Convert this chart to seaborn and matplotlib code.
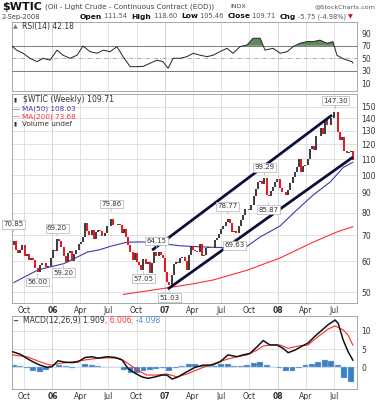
import matplotlib
matplotlib.use("Agg")
import matplotlib.pyplot as plt
import numpy as np
import pandas as pd
import seaborn as sns
from matplotlib.ticker import FixedLocator, FuncFormatter, NullLocator

# weekly closes, $WTIC, week of 2005-08-29 .. week of 2008-09-01
first_open = 65.9
weekly_close = [
    67.57, 64.08, 63.00, 64.19, 66.24, 61.84, 62.63, 60.35, 61.09, 60.58,
    57.53, 56.14, 58.71, 59.32, 59.39, 58.06, 58.43, 61.04,
    # 2006
    64.21, 63.92, 68.35, 67.76, 65.37, 61.84, 59.88, 62.91, 63.67, 60.00,
    62.69, 64.26, 66.63, 67.39, 69.32, 75.17, 71.88, 70.19, 72.04, 68.53,
    71.37, 72.33, 71.63, 69.85, 70.87, 73.93, 74.09, 77.03, 74.43, 74.40,
    75.00, 74.35, 71.14, 72.51, 69.20, 66.25, 63.33, 60.55, 62.91, 59.76,
    58.57, 56.82, 60.75, 59.14, 59.58, 55.81, 59.24, 63.43, 62.03, 63.43,
    62.41, 61.05,
    # 2007
    56.31, 52.99, 52.24, 55.42, 59.02, 59.89, 59.39, 61.14, 61.64, 60.05,
    57.11, 62.28, 65.87, 64.28, 63.63, 63.38, 66.46, 61.93, 62.37, 64.94,
    65.20, 65.08, 64.76, 68.00, 68.98, 70.68, 72.81, 73.93, 75.57, 77.02,
    75.48, 71.47, 71.98, 71.09, 74.04, 76.70, 79.10, 81.62, 81.66, 81.22,
    83.69, 88.60, 91.86, 95.93, 96.32, 95.10, 98.18, 88.71, 88.28, 91.27,
    93.31, 96.00,
    # 2008
    97.91, 92.69, 90.57, 90.71, 88.96, 91.77, 95.50, 98.81, 101.84, 105.15,
    110.21, 101.84, 105.62, 106.23, 110.14, 116.69, 118.52, 116.32, 125.96, 126.29,
    132.19, 127.35, 138.54, 134.86, 134.62, 140.21, 145.29, 145.08, 128.88, 123.26,
    125.10, 115.20, 113.77, 114.59, 115.46, 109.71,
]

ma50_dates = ["2005-08-29", "2005-11-15", "2006-02-08", "2006-04-25", "2006-06-01",
              "2006-07-15", "2006-09-01", "2006-10-20", "2006-12-15", "2007-02-15",
              "2007-04-02", "2007-06-01", "2007-08-01", "2007-09-24", "2007-11-05",
              "2008-01-09", "2008-02-25", "2008-04-25", "2008-06-19", "2008-07-31",
              "2008-09-01"]
ma50_values = [52.9, 57.0, 59.2, 63.4, 64.2, 65.8, 67.2, 67.3, 66.8, 65.8,
               65.5, 65.2, 65.0, 65.6, 69.3, 74.0, 80.4, 88.9, 96.0, 104.6, 108.03]

ma200_dates = ["2006-08-18", "2006-12-22", "2007-03-27", "2007-06-06", "2007-09-24",
               "2008-01-09", "2008-04-25", "2008-07-11", "2008-09-01"]
ma200_values = [49.3, 51.0, 52.4, 53.7, 56.9, 61.2, 67.2, 71.4, 73.68]

channel_upper_dates = ["2006-11-20", "2008-06-25"]
channel_upper_prices = [64.1, 142.8]
channel_lower_dates = ["2007-01-10", "2008-09-01"]
channel_lower_prices = [50.9, 111.3]

price_labels = ["70.85", "56.00", "69.20", "59.20", "79.86", "57.05", "64.15",
                "51.03", "78.77", "69.63", "99.29", "85.87", "147.30"]
label_dates = ["2005-08-29", "2005-11-14", "2006-01-16", "2006-02-06", "2006-07-10",
               "2006-10-23", "2006-12-04", "2007-01-15", "2007-07-23", "2007-08-13",
               "2007-11-19", "2007-12-03", "2008-07-07"]
label_above = [True, False, True, False, True, False, True, False, True, False,
               True, False, True]

rsi_dates = ["2005-08-23", "2005-09-07", "2005-09-28", "2005-10-20", "2005-11-12",
             "2005-12-02", "2005-12-24", "2006-01-16", "2006-02-04", "2006-02-27",
             "2006-03-22", "2006-04-10", "2006-05-03", "2006-05-26", "2006-06-14",
             "2006-07-07", "2006-07-29", "2006-08-18", "2006-09-10", "2006-10-02",
             "2006-10-22", "2006-11-13", "2006-12-06", "2006-12-25", "2007-01-11",
             "2007-01-27", "2007-02-19", "2007-03-13", "2007-04-02", "2007-04-24",
             "2007-05-17", "2007-06-06", "2007-06-28", "2007-07-21", "2007-08-09",
             "2007-09-01", "2007-09-24", "2007-10-13", "2007-11-05", "2007-11-21",
             "2007-12-17", "2008-01-09", "2008-02-01", "2008-02-20", "2008-03-13",
             "2008-04-05", "2008-04-25", "2008-05-17", "2008-06-09", "2008-06-28",
             "2008-07-11", "2008-07-28", "2008-08-13", "2008-08-29", "2008-09-01"]
rsi_values = [69.5, 63, 58, 50, 44.6, 50, 47, 63, 55, 50,
              55, 69.5, 60.6, 58, 63, 60.6, 68.6, 52.6, 36.6, 36.6,
              37, 42, 47, 44.6, 34, 50, 50, 52.6, 58, 55,
              52.6, 55, 60.6, 66, 58, 68.6, 71.3, 82, 82, 63,
              66, 58, 60.6, 68.6, 74, 76.6, 76.6, 79, 74, 76.6,
              55, 50, 47, 44.6, 42.18]

macd_dates = ["2005-08-23", "2005-09-18", "2005-10-11", "2005-10-30", "2005-11-22",
              "2005-12-15", "2005-12-31", "2006-01-19", "2006-02-11", "2006-03-06",
              "2006-03-25", "2006-04-17", "2006-05-09", "2006-05-29", "2006-06-27",
              "2006-07-23", "2006-08-15", "2006-09-03", "2006-09-26", "2006-10-18",
              "2006-11-07", "2006-11-30", "2006-12-22", "2007-01-07", "2007-01-24",
              "2007-02-12", "2007-03-13", "2007-04-08", "2007-05-04", "2007-06-02",
              "2007-06-28", "2007-07-24", "2007-08-22", "2007-09-11", "2007-10-03",
              "2007-10-26", "2007-11-15", "2007-12-07", "2007-12-30", "2008-01-18",
              "2008-02-04", "2008-02-26", "2008-03-20", "2008-04-08", "2008-05-01",
              "2008-05-24", "2008-06-12", "2008-07-05", "2008-07-15", "2008-07-31",
              "2008-08-16", "2008-09-01"]
macd_values = [4.3, 3.6, 2.4, 1.5, 0.6, 0.0, 0.2, 1.8, 1.4, 1.3,
               1.5, 2.7, 2.9, 2.5, 2.9, 2.7, 2.0, -0.3, -1.6, -2.6,
               -3.0, -2.6, -2.1, -2.1, -3.2, -2.6, -1.2, 0.0, 0.6, 0.6,
               1.5, 3.4, 2.9, 3.4, 3.8, 5.6, 7.3, 6.1, 6.1, 5.2,
               4.0, 4.7, 5.8, 6.6, 8.5, 10.2, 11.6, 12.9, 12.0, 7.5,
               4.3, 1.909]

signal_dates = ["2005-08-23", "2005-10-11", "2005-11-22", "2005-12-25", "2006-01-26",
                "2006-02-27", "2006-03-31", "2006-05-02", "2006-06-03", "2006-07-05",
                "2006-08-06", "2006-09-03", "2006-10-02", "2006-11-03", "2006-12-06",
                "2007-01-07", "2007-02-09", "2007-03-13", "2007-04-14", "2007-05-17",
                "2007-06-18", "2007-07-21", "2007-08-22", "2007-09-24", "2007-10-26",
                "2007-11-15", "2007-12-07", "2008-01-09", "2008-02-04", "2008-03-07",
                "2008-04-08", "2008-05-11", "2008-06-12", "2008-07-05", "2008-07-31",
                "2008-08-16", "2008-09-01"]
signal_values = [3.4, 2.9, 1.5, 0.6, 1.1, 1.4, 1.8, 2.2, 2.5, 2.6,
                 2.5, 1.1, -0.7, -2.1, -2.1, -1.8, -2.6, -1.8, -0.7, 0.4,
                 1.3, 2.2, 2.9, 3.4, 4.7, 5.8, 6.1, 6.1, 5.2, 5.8,
                 6.1, 8.4, 10.4, 11.3, 10.2, 8.8, 6.006]

# histogram read every third week from 2005-08-29
hist_values = [0.7, 0.4, -0.3, -1.0, -1.2, -0.7, 0.2, 0.6, 0.4, -0.2,
               0.1, 0.9, 0.7, 0.3, 0.2, 0.2, 0.0, -0.7, -1.5, -1.5,
               -1.0, -0.6, -0.4, -0.3, -0.9, -0.2, 0.4, 0.9, 0.9, 0.5,
               0.3, 0.5, 0.8, 0.8, 0.3, 0.4, 0.6, 1.3, 1.5, 0.7,
               0.1, -0.3, -0.9, -1.0, -0.2, 0.6, 0.9, 1.4, 1.9, 1.7,
               0.6, -2.8, -4.0]

price_ticks = [50, 60, 70, 80, 90, 100, 110, 120, 130, 140, 150]
rsi_ticks = [10, 30, 50, 70, 90]
macd_ticks = [0, 5, 10]

sns.set_theme(style="white")
plt.rcParams["font.family"] = ["DejaVu Sans"]

W, H = 385, 400
fig = plt.figure(figsize=(W / 100, H / 100), dpi=100)


def panel(left, top, right, bottom):
    return fig.add_axes([left / W, 1 - bottom / H, (right - left) / W, (bottom - top) / H])


ax_rsi = panel(12, 22, 357, 91)
ax_px = panel(12, 94, 357, 303)
ax_macd = panel(12, 316, 357, 389)

week_dates = pd.date_range("2005-08-29", periods=len(weekly_close), freq="7D")
price_df = pd.DataFrame({"date": week_dates,
                         "open": [first_open] + weekly_close[:-1],
                         "close": weekly_close})
up = price_df["close"] >= price_df["open"]

# --- price panel ---
ax_px.set_yscale("log")
ax_px.vlines(price_df["date"][up], price_df["open"][up], price_df["close"][up],
             color="#3a3a3a", lw=1.4, zorder=3)
ax_px.vlines(price_df["date"][~up], price_df["open"][~up], price_df["close"][~up],
             color="#e8141c", lw=1.4, zorder=3)
sns.lineplot(x=pd.to_datetime(ma50_dates), y=ma50_values, ax=ax_px,
             color="#3c3ca8", lw=0.8, zorder=2)
sns.lineplot(x=pd.to_datetime(ma200_dates), y=ma200_values, ax=ax_px,
             color="#ff3030", lw=0.8, zorder=2)
for d, p in [(channel_upper_dates, channel_upper_prices),
             (channel_lower_dates, channel_lower_prices)]:
    ax_px.plot(pd.to_datetime(d), p, color="#0e0e3c", lw=2.0, zorder=4,
               solid_capstyle="butt")

for txt, d, above in zip(price_labels, label_dates, label_above):
    ax_px.annotate(txt, xy=(pd.Timestamp(d), float(txt)),
                   xytext=(0, 6.5 if above else -6.5), textcoords="offset points",
                   ha="center", va="center", fontsize=5, color="#333333",
                   bbox=dict(boxstyle="square,pad=0.2", fc="white", ec="#b0b0b0", lw=0.5),
                   arrowprops=dict(arrowstyle="-", color="#b0b0b0", lw=0.5,
                                   shrinkA=0, shrinkB=1),
                   annotation_clip=False, zorder=6)

ax_px.set_ylim(46.85, 161.8)
ax_px.yaxis.set_major_locator(FixedLocator(price_ticks))
ax_px.yaxis.set_minor_locator(NullLocator())
ax_px.yaxis.set_major_formatter(FuncFormatter(lambda v, p: f"{v:.0f}"))
ax_px.grid(True, axis="y", color="#dcdcdc", lw=0.6)

# --- RSI panel ---
rsi_x = pd.to_datetime(rsi_dates)
rsi_v = np.array(rsi_values)
ax_rsi.fill_between(rsi_x, rsi_v, 70, where=rsi_v > 70, interpolate=True,
                    color="#5d8c58", lw=0, zorder=2)
ax_rsi.axhline(70, color="#7a7a7a", lw=0.7, zorder=1)
ax_rsi.axhline(30, color="#7a7a7a", lw=0.7, zorder=1)
ax_rsi.axhline(50, color="#a0a0a0", lw=0.6, ls=(0, (5, 2, 1, 2)), zorder=1)
sns.lineplot(x=rsi_x, y=rsi_v, ax=ax_rsi, color="#222222", lw=0.7, zorder=3)
ax_rsi.set_ylim(-2.3, 108)
ax_rsi.set_yticks(rsi_ticks)

# --- MACD panel ---
hist_dates = pd.date_range("2005-08-29", periods=len(hist_values), freq="21D")
ax_macd.bar(hist_dates, hist_values, width=19, color="#3a80c4",
            edgecolor="#a8cdee", lw=0.3, zorder=2)
sns.lineplot(x=pd.to_datetime(signal_dates), y=signal_values, ax=ax_macd,
             color="#ff2a2a", lw=0.8, zorder=3)
sns.lineplot(x=pd.to_datetime(macd_dates), y=macd_values, ax=ax_macd,
             color="#111111", lw=1.1, zorder=4)
ax_macd.set_ylim(-5.9, 14.0)
ax_macd.set_yticks(macd_ticks)
ax_macd.grid(True, axis="y", color="#dcdcdc", lw=0.6)

# --- shared axis styling ---
tick_dates = pd.date_range("2005-10-01", "2008-07-01", freq="QS")
tick_labels = [d.strftime("%y") if d.month == 1 else d.strftime("%b") for d in tick_dates]
for ax in (ax_rsi, ax_px, ax_macd):
    ax.set_xlim(pd.Timestamp("2005-08-23"), pd.Timestamp("2008-09-14"))
    ax.set_xticks(tick_dates)
    ax.set_xticklabels(tick_labels)
    for lab, d in zip(ax.get_xticklabels(), tick_dates):
        if d.month == 1:
            lab.set_fontweight("bold")
    ax.grid(True, axis="x", color="#dcdcdc", lw=0.6)
    for d in tick_dates:
        if d.month == 1:
            ax.axvline(d, color="#b8b8b8", lw=0.7, zorder=0.5)
    ax.set_axisbelow(True)
    ax.set_xlabel("")
    ax.set_ylabel("")
    ax.yaxis.tick_right()
    ax.tick_params(axis="both", length=0, labelsize=5.5, labelcolor="#333333")
    ax.tick_params(axis="y", pad=3)
    ax.tick_params(axis="x", pad=2)
    for s in ax.spines.values():
        s.set_color("#9a9a9a")
        s.set_linewidth(0.6)
ax_rsi.tick_params(axis="x", labelbottom=False)

# --- header and legends ---
ax_txt = fig.add_axes([0, 0, 1, 1], zorder=10)
ax_txt.set_xlim(0, W)
ax_txt.set_ylim(H, 0)
ax_txt.axis("off")


def put(x, y, s, size=5.2, color="#222222", weight="normal"):
    return ax_txt.text(x, y, s, fontsize=size, color=color, fontweight=weight,
                       ha="left", va="center")


def put_after(prev, s, size=5.2, color="#222222", weight="normal"):
    return ax_txt.annotate(s, xy=(1, 0.5), xycoords=prev, fontsize=size,
                           color=color, fontweight=weight, ha="left", va="center")


put(2, 6.5, "$WTIC", size=8, color="#111111", weight="bold")
put(45, 7, "(Oil - Light Crude - Continuous Contract (EOD))", color="#444444")
put(230, 7, "INDX", size=4.5, color="#444444")
put(315, 7, "@StockCharts.com", size=4.6, color="#555555")

put(2, 16.5, "2-Sep-2008", size=4.8, color="#444444")
header_parts = [("Open", True), (" 111.54  ", False), ("High", True),
                (" 118.60  ", False), ("Low", True), (" 105.46  ", False),
                ("Close", True), (" 109.71  ", False), ("Chg", True),
                (" -5.75 (-4.98%)", False)]
t = put(78, 16.5, " ", size=4.9)
for s, bold in header_parts:
    if bold:
        t = put_after(t, s, size=5.4, color="#111111", weight="bold")
    else:
        t = put_after(t, s, size=4.8, color="#555555")
put_after(t, " \u25BC", size=4.5, color="#cc1111")

put(13, 26.5, "\u25B2", size=4.5, color="#5d8c58")
put(22, 26.5, "RSI(14) 42.18", size=5.5, color="#333333")

put(14, 100, "\u25AE", size=4, color="#333333")
put(23, 100, "$WTIC (Weekly) 109.71", size=5.6, color="#333333")
put(13, 109, "\u2014", size=5, color="#3c3ca8")
put(22, 109, "MA(50) 108.03", size=5.2, color="#3c3ca8")
put(13, 116.7, "\u2014", size=5, color="#ff3030")
put(22, 116.7, "MA(200) 73.68", size=5.2, color="#ff3030")
put(14, 124.3, "\u25AE", size=4, color="#333333")
put(22, 124.3, "Volume undef", size=5.2, color="#333333")

put(13, 321, "\u2501", size=5, color="#555555")
t = put(23, 321, "MACD(12,26,9) 1.909", size=5.5, color="#333333")
t = put_after(t, ", 6.006", size=5.5, color="#ff3030")
put_after(t, ", -4.098", size=5.5, color="#4a8fd0")

fig.savefig("out.png", dpi=100)
